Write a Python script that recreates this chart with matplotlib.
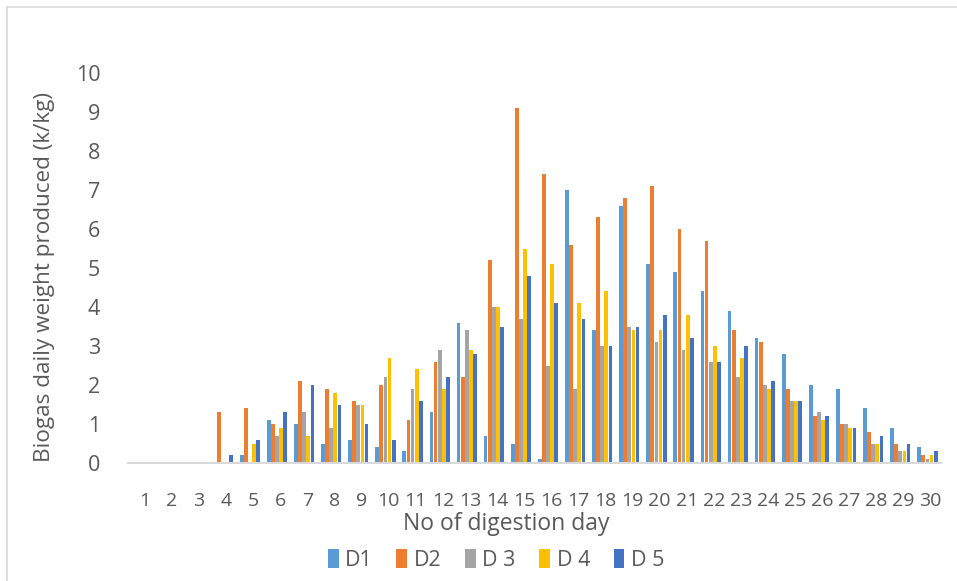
import numpy as np
import matplotlib
matplotlib.use("Agg")
import matplotlib.pyplot as plt
from matplotlib.lines import Line2D

plt.rcParams['font.family'] = ['Open Sans', 'DejaVu Sans']

# Tage der Vergärung
days = list(range(1, 31))

# Tägliche Biogasmenge je Ansatz (k/kg)
d1 = [0, 0, 0, 0, 0.2, 1.1, 1.0, 0.5, 0.6, 0.4, 0.3, 1.3, 3.6, 0.7, 0.5,
      0.1, 7.0, 3.4, 6.6, 5.1, 4.9, 4.4, 3.9, 3.2, 2.8, 2.0, 1.9, 1.4, 0.9, 0.4]
d2 = [0, 0, 0, 1.3, 1.4, 1.0, 2.1, 1.9, 1.6, 2.0, 1.1, 2.6, 2.2, 5.2, 9.1,
      7.4, 5.6, 6.3, 6.8, 7.1, 6.0, 5.7, 3.4, 3.1, 1.9, 1.2, 1.0, 0.8, 0.5, 0.2]
d3 = [0, 0, 0, 0, 0, 0.7, 1.3, 0.9, 1.5, 2.2, 1.9, 2.9, 3.4, 4.0, 3.7,
      2.5, 1.9, 3.0, 3.5, 3.1, 2.9, 2.6, 2.2, 2.0, 1.6, 1.3, 1.0, 0.5, 0.3, 0.1]
d4 = [0, 0, 0, 0, 0.5, 0.9, 0.7, 1.8, 1.5, 2.7, 2.4, 1.9, 2.9, 4.0, 5.5,
      5.1, 4.1, 4.4, 3.4, 3.4, 3.8, 3.0, 2.7, 1.9, 1.6, 1.1, 0.9, 0.5, 0.3, 0.2]
d5 = [0, 0, 0, 0.2, 0.6, 1.3, 2.0, 1.5, 1.0, 0.6, 1.6, 2.2, 2.8, 3.5, 4.8,
      4.1, 3.7, 3.0, 3.5, 3.8, 3.2, 2.6, 3.0, 2.1, 1.6, 1.2, 0.9, 0.7, 0.5, 0.3]

series = [d1, d2, d3, d4, d5]
labels = ['D1', 'D2', 'D 3', 'D 4', 'D 5']
colors = ['#5B9BD5', '#ED7D31', '#A5A5A5', '#FFC000', '#4472C4']

txt = '#595959'

fig = plt.figure(figsize=(9.57, 5.81), dpi=100)
ax = fig.add_axes([128 / 957, 1 - 463 / 581, (941 - 128) / 957, (463 - 73) / 581])

x = np.arange(len(days))
step = 0.152
bw = 0.138
for i, (vals, lab, col) in enumerate(zip(series, labels, colors)):
    ax.bar(x + (i - 2) * step, vals, width=bw, color=col, label=lab)

ax.set_xlim(-0.5, len(days) - 0.5)
ax.set_ylim(0, 10)
ax.set_yticks(range(0, 11))
ax.set_xticks(x + 0.12)
ax.set_xticklabels(days)
ax.tick_params(axis='both', length=0, colors=txt)
ax.tick_params(axis='x', pad=21, labelsize=14)
ax.tick_params(axis='y', pad=20, labelsize=15.5)
for s in ['top', 'right', 'left']:
    ax.spines[s].set_visible(False)
ax.spines['bottom'].set_color('#D9D9D9')
ax.spines['bottom'].set_linewidth(1.5)

fig.text(45 / 957, 1 - 277 / 581, 'Biogas daily weight produced (k/kg)',
         rotation=90, ha='center', va='center', fontsize=16.2, color=txt)
fig.text(506 / 957, 1 - 524 / 581, 'No of digestion day',
         ha='center', va='center', fontsize=16.5, color=txt)

leg = fig.legend(loc='center', bbox_to_anchor=(496 / 957, 1 - 560 / 581), ncol=5,
                 frameon=False, fontsize=15.5, handlelength=0.5, handleheight=1.0,
                 handletextpad=0.3, columnspacing=1.1, labelcolor=txt)

# Rahmen des Diagramms (nur oben und links sichtbar)
fig.add_artist(Line2D([7 / 957, 1], [1 - 7 / 581, 1 - 7 / 581],
                      transform=fig.transFigure, color='#D9D9D9', lw=1.2))
fig.add_artist(Line2D([7 / 957, 7 / 957], [0, 1 - 7 / 581],
                      transform=fig.transFigure, color='#D9D9D9', lw=1.2))

fig.savefig('out.png', dpi=100)
